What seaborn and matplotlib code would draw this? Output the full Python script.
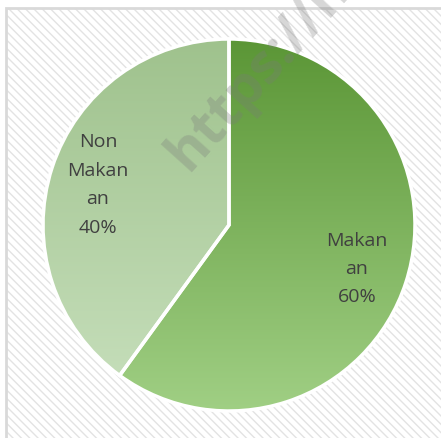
import numpy as np
import matplotlib
matplotlib.use("Agg")
import matplotlib.pyplot as plt
from matplotlib.patches import Rectangle
import seaborn as sns

# Data
categories = ["Makanan", "Non Makanan"]
values = [60, 40]
labels = ["Makan\nan\n60%", "Non\nMakan\nan\n40%"]

sns.set_theme(style="white")
plt.rcParams['font.family'] = ['Open Sans', 'DejaVu Sans']
plt.rcParams['hatch.linewidth'] = 1.0

W, H = 441, 438
fig = plt.figure(figsize=(W / 100, H / 100), dpi=100)
fig.patch.set_facecolor("white")

# hatched background panel
bg = Rectangle((6 / W, -0.05), 1.1, (H - 8) / H + 0.05, transform=fig.transFigure,
               facecolor="white", edgecolor="#e3e3e3", hatch="\\\\\\\\", lw=0, zorder=-3)
fig.patches.append(bg)
border = Rectangle((6 / W, -0.05), 1.1, (H - 8) / H + 0.05, transform=fig.transFigure,
                   facecolor="none", edgecolor="#d9d9d9", lw=2, zorder=-2)
fig.patches.append(border)

# pie axes
cx, cy, r = 229, 225, 186
m = 1.05
ax = fig.add_axes([(cx - r * m) / W, (H - cy - r * m) / H, 2 * r * m / W, 2 * r * m / H])
ax.set_zorder(1)
ax.patch.set_alpha(0)

wedges, _ = ax.pie(values, startangle=90, counterclock=False, radius=1,
                   wedgeprops=dict(edgecolor="white", linewidth=2.5))

grads = [("#5b9636", "#a0cf84"), ("#9fc28d", "#c8e0bd")]
yy = np.linspace(0, 1, 256).reshape(-1, 1)
for w, (top, bot) in zip(wedges, grads):
    c1 = np.array(matplotlib.colors.to_rgb(top))
    c2 = np.array(matplotlib.colors.to_rgb(bot))
    img = c1[None, None, :] * (1 - yy[:, :, None]) + c2[None, None, :] * yy[:, :, None]
    im = ax.imshow(img, extent=(-1, 1, -1, 1), origin="upper", aspect="auto", zorder=1)
    im.set_clip_path(w)
    w.set_facecolor("none")
    w.set_zorder(2)

ax.set_xlim(-m, m)
ax.set_ylim(-m, m)
ax.set_aspect("equal")
ax.axis("off")

# labels
ax.text((357 - cx) / r, (cy - 269) / r, labels[0], ha="center", va="center",
        fontsize=14, color="#404040", linespacing=1.75, zorder=3)
ax.text((98 - cx) / r, (cy - 185) / r, labels[1], ha="center", va="center",
        fontsize=14, color="#404040", linespacing=1.75, zorder=3)

# watermark
fig.text(188 / W, 1 - 172 / H, "https://h", rotation=48, rotation_mode="anchor",
         ha="left", va="baseline", fontsize=40, fontweight="bold",
         color="#7a7a7a", alpha=0.3, zorder=5)

fig.savefig("out.png", dpi=100)
